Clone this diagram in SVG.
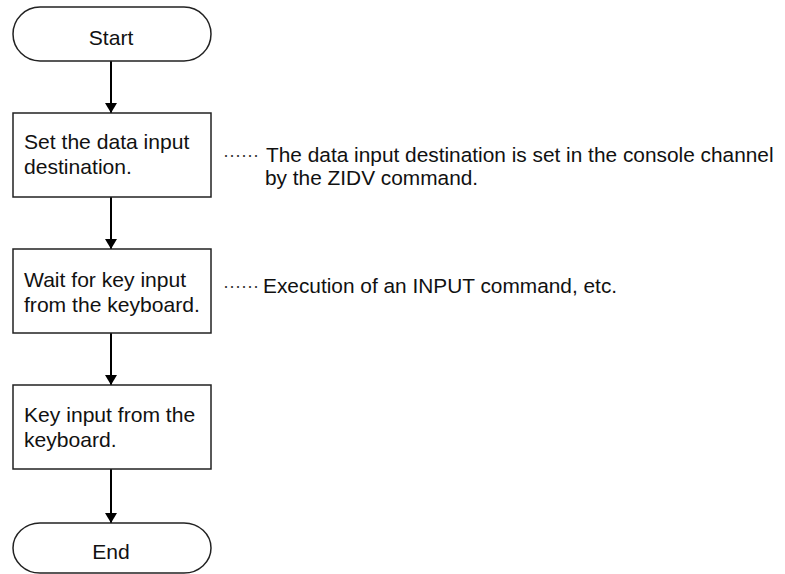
<svg xmlns="http://www.w3.org/2000/svg" width="785" height="574" viewBox="0 0 785 574">
<defs>
<style>
.box{fill:#fff;stroke:#222;stroke-width:1.5}
.t{font-family:"Liberation Sans",Arial,sans-serif;font-size:21.1px;fill:#111}
.n{font-size:20.85px}
.d{font-family:"Liberation Sans",Arial,sans-serif;font-size:18px;fill:#333}
.c{stroke:#000;stroke-width:2;fill:none}
</style>
<marker id="ah" markerWidth="10" markerHeight="12" refX="10" refY="6" orient="auto" markerUnits="userSpaceOnUse">
<path d="M0,0 L10,6 L0,12 Z" fill="#000"/>
</marker>
</defs>
<rect width="785" height="574" fill="#fff"/>
<g id="connectors">
<line class="c" x1="111" y1="61" x2="111" y2="113" marker-end="url(#ah)"/>
<line class="c" x1="111" y1="197" x2="111" y2="249" marker-end="url(#ah)"/>
<line class="c" x1="111" y1="333" x2="111" y2="385" marker-end="url(#ah)"/>
<line class="c" x1="111" y1="469" x2="111" y2="523" marker-end="url(#ah)"/>
</g>
<g id="start">
<rect class="box" x="13" y="7" width="198" height="54" rx="27" ry="27"/>
<text class="t" x="111" y="45" text-anchor="middle">Start</text>
</g>
<g id="step1">
<rect class="box" x="13" y="113" width="198" height="84"/>
<text class="t" x="24" y="149">Set the data input</text>
<text class="t" x="24" y="174">destination.</text>
</g>
<g id="step2">
<rect class="box" x="13" y="249" width="198" height="84"/>
<text class="t" x="24" y="287">Wait for key input</text>
<text class="t" x="24" y="312">from the keyboard.</text>
</g>
<g id="step3">
<rect class="box" x="13" y="385" width="198" height="84"/>
<text class="t" x="24" y="422">Key input from the</text>
<text class="t" x="24" y="447">keyboard.</text>
</g>
<g id="end">
<rect class="box" x="13" y="523" width="198" height="50" rx="27" ry="25"/>
<text class="t" x="111" y="559" text-anchor="middle">End</text>
</g>
<g id="note1">
<text class="d" x="223" y="161">······</text>
<text class="t n" x="266" y="162">The data input destination is set in the console channel</text>
<text class="t n" x="265" y="185">by the ZIDV command.</text>
</g>
<g id="note2">
<text class="d" x="223" y="292">······</text>
<text class="t n" x="263" y="293">Execution of an INPUT command, etc.</text>
</g>
</svg>
